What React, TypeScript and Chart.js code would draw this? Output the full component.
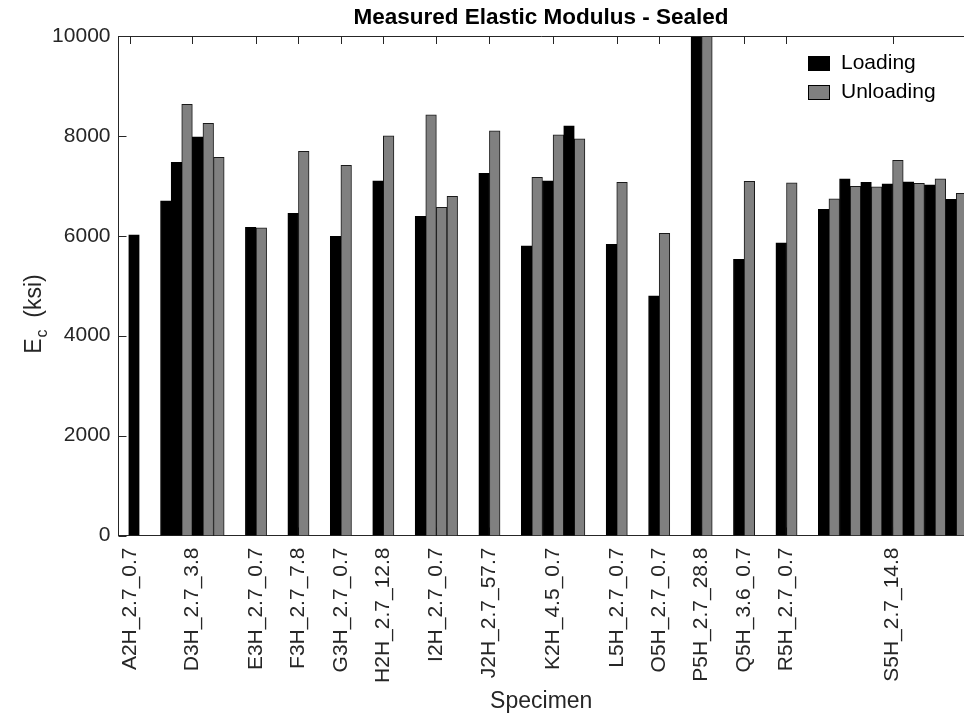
import React, { useEffect, useRef } from 'react';
import { Chart, registerables } from 'chart.js';

Chart.register(...registerables);

// ---- data ----
const chartTitle = 'Measured Elastic Modulus - Sealed';
const xAxisTitle = 'Specimen';
const seriesNames = ['Loading', 'Unloading'];

const specimenLabels = [
  'A2H_2.7_0.7', 'D3H_2.7_3.8', 'E3H_2.7_0.7', 'F3H_2.7_7.8', 'G3H_2.7_0.7',
  'H2H_2.7_12.8', 'I2H_2.7_0.7', 'J2H_2.7_57.7', 'K2H_4.5_0.7', 'L5H_2.7_0.7',
  'O5H_2.7_0.7', 'P5H_2.7_28.8', 'Q5H_3.6_0.7', 'R5H_2.7_0.7', 'S5H_2.7_14.8',
];
// x position (bar slot units) of each specimen tick
const specimenTickPos = [-0.35, 5.5, 11.5, 15.5, 19.5, 23.5, 28.5, 33.5, 39.5, 45.5, 49.5, 53.5, 57.5, 61.5, 71.5];

// Loading bars: slot position and value (ksi)
const loadingPos = [0, 3, 4, 6, 11, 15, 19, 23, 27, 33, 37, 39, 41, 45, 49, 53, 57, 61, 65, 67, 69, 71, 73, 75, 77];
const loadingVal = [6020, 6700, 7470, 7980, 6170, 6450, 5990, 7100, 6390, 7250, 5800, 7100, 8200, 5830, 4800, 10500, 5530, 5860, 6530, 7140, 7070, 7040, 7080, 7020, 6730];

// Unloading bars: slot position and value (ksi)
const unloadingPos = [5, 7, 8, 12, 16, 20, 24, 28, 29, 30, 34, 38, 40, 42, 46, 50, 54, 58, 62, 66, 68, 70, 72, 74, 76, 78];
const unloadingVal = [8630, 8250, 7570, 6160, 7690, 7410, 8000, 8420, 6570, 6790, 8100, 7170, 8020, 7940, 7070, 6050, 10500, 7090, 7060, 6740, 6990, 6980, 7510, 7050, 7140, 6850];

const yTickValues = [0, 2000, 4000, 6000, 8000, 10000];

// ---- styling ----
const FONT = "'Liberation Sans', Arial, Helvetica, sans-serif";
const AXIS_COLOR = '#262626';
const LOAD_COLOR = '#000000';
const UNLOAD_COLOR = '#808080';

const decorPlugin = {
  id: 'decor',
  beforeDatasetsDraw(chart: any) {
    const { ctx, chartArea: a, scales } = chart;
    ctx.save();
    ctx.strokeStyle = AXIS_COLOR;
    ctx.lineWidth = 1;
    ctx.beginPath();
    scales.y.ticks.forEach((t: any) => {
      const y = Math.round(scales.y.getPixelForValue(t.value)) + 0.5;
      ctx.moveTo(a.left, y);
      ctx.lineTo(a.left + 8, y);
    });
    scales.x.ticks.forEach((t: any) => {
      const x = Math.round(scales.x.getPixelForValue(t.value)) + 0.5;
      ctx.moveTo(x, a.top);
      ctx.lineTo(x, a.top + 8);
      ctx.moveTo(x, a.bottom);
      ctx.lineTo(x, a.bottom - 8);
    });
    ctx.stroke();
    ctx.restore();
  },
  afterDatasetsDraw(chart: any) {
    const { ctx, chartArea: a } = chart;
    ctx.save();
    ctx.strokeStyle = AXIS_COLOR;
    ctx.lineWidth = 1;
    ctx.beginPath();
    ctx.moveTo(a.left, a.top + 0.5);
    ctx.lineTo(a.right, a.top + 0.5);
    ctx.stroke();
    ctx.restore();
  },
  afterDraw(chart: any) {
    const { ctx, chartArea: a } = chart;
    ctx.save();
    // title
    ctx.fillStyle = '#000';
    ctx.font = `bold 22.5px ${FONT}`;
    ctx.textAlign = 'center';
    ctx.textBaseline = 'middle';
    ctx.fillText(chartTitle, 541, 18);

    // y axis title with subscript
    ctx.save();
    ctx.translate(35, 314);
    ctx.rotate(-Math.PI / 2);
    ctx.fillStyle = AXIS_COLOR;
    ctx.textAlign = 'left';
    ctx.textBaseline = 'middle';
    const big = `23px ${FONT}`;
    const small = `16px ${FONT}`;
    ctx.font = big;
    const wE = ctx.measureText('E').width;
    const wRest = ctx.measureText('  (ksi)').width;
    ctx.font = small;
    const wc = ctx.measureText('c').width;
    const total = wE + wc + wRest;
    const x0 = -total / 2;
    ctx.font = big;
    ctx.fillText('E', x0, 0);
    ctx.font = small;
    ctx.fillText('c', x0 + wE + 1, 8);
    ctx.font = big;
    ctx.fillText('  (ksi)', x0 + wE + wc, 0);
    ctx.restore();

    // legend
    const bx = a.right - 156;
    const rows = [
      { name: seriesNames[0], color: LOAD_COLOR, y: 56 },
      { name: seriesNames[1], color: UNLOAD_COLOR, y: 85 },
    ];
    ctx.font = `21px ${FONT}`;
    ctx.textAlign = 'left';
    ctx.textBaseline = 'middle';
    rows.forEach((r) => {
      ctx.fillStyle = r.color;
      ctx.fillRect(bx, r.y, 22, 15);
      ctx.strokeStyle = '#000';
      ctx.lineWidth = 1;
      ctx.strokeRect(bx + 0.5, r.y + 0.5, 21, 14);
      ctx.fillStyle = '#000';
      ctx.fillText(r.name, bx + 33, r.y + 7.5);
    });
    ctx.restore();
  },
};

export default function App() {
  const canvasRef = useRef<HTMLCanvasElement | null>(null);

  useEffect(() => {
    const canvas = canvasRef.current;
    if (!canvas) return;
    const chart = new Chart(canvas, {
      type: 'bar',
      data: {
        datasets: [
          {
            label: seriesNames[0],
            data: loadingPos.map((x, i) => ({ x, y: loadingVal[i] })),
            backgroundColor: LOAD_COLOR,
            borderColor: '#000',
            borderWidth: 1,
            grouped: false,
            barPercentage: 1,
            categoryPercentage: 1,
          },
          {
            label: seriesNames[1],
            data: unloadingPos.map((x, i) => ({ x, y: unloadingVal[i] })),
            backgroundColor: UNLOAD_COLOR,
            borderColor: '#1a1a1a',
            borderWidth: 1,
            grouped: false,
            barPercentage: 1,
            categoryPercentage: 1,
          },
        ] as any,
      },
      plugins: [decorPlugin],
      options: {
        animation: false,
        responsive: true,
        maintainAspectRatio: false,
        layout: { padding: { top: 36, right: 0, left: 0, bottom: 0 } },
        plugins: {
          legend: { display: false },
          title: { display: false },
          tooltip: { enabled: false },
        },
        scales: {
          x: {
            type: 'linear',
            min: -1.46,
            max: 78.23,
            offset: false,
            grid: { display: false, drawTicks: false },
            border: { display: true, color: AXIS_COLOR, width: 1 },
            afterBuildTicks: (scale: any) => {
              scale.ticks = specimenTickPos.map((v) => ({ value: v }));
            },
            afterFit: (scale: any) => {
              scale.height = 179.5;
            },
            ticks: {
              autoSkip: false,
              maxRotation: 90,
              minRotation: 90,
              padding: 12,
              color: AXIS_COLOR,
              font: { family: FONT, size: 21 },
              callback: (_v: any, i: number) => specimenLabels[i],
            },
            title: {
              display: true,
              text: xAxisTitle,
              color: AXIS_COLOR,
              font: { family: FONT, size: 23 },
              padding: { top: 0, bottom: 0 },
            },
          },
          y: {
            min: 0,
            max: 10000,
            grid: { display: false, drawTicks: false },
            border: { display: true, color: AXIS_COLOR, width: 1 },
            afterBuildTicks: (scale: any) => {
              scale.ticks = yTickValues.map((v) => ({ value: v }));
            },
            afterFit: (scale: any) => {
              scale.width = 118.5;
            },
            ticks: {
              padding: 8,
              color: AXIS_COLOR,
              font: { family: FONT, size: 21 },
              callback: (v: any) => String(v),
            },
          },
        },
      } as any,
    });
    return () => chart.destroy();
  }, []);

  return (
    <div style={{ position: 'fixed', left: 0, top: 0, width: 964, height: 715, background: '#fff' }}>
      <canvas ref={canvasRef} />
    </div>
  );
}
